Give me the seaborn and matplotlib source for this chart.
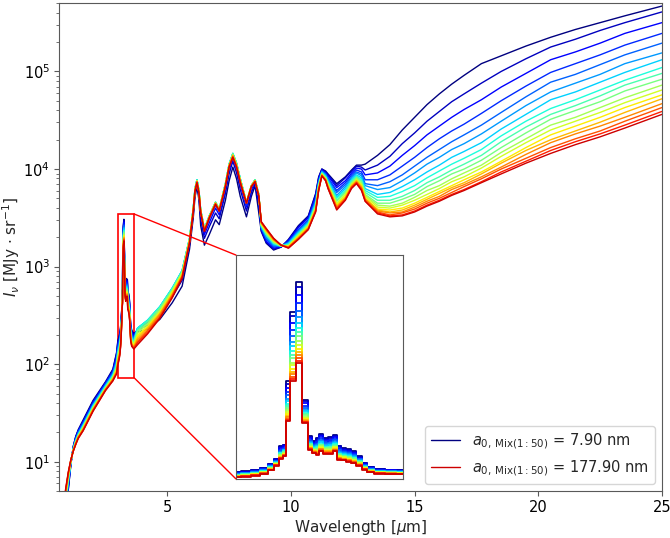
import numpy as np
import pandas as pd
import matplotlib
matplotlib.use("Agg")
import matplotlib.pyplot as plt
import seaborn as sns
from matplotlib.patches import Rectangle, ConnectionPatch
from matplotlib.lines import Line2D

# grain size of each model (one curve per size)
a0_nm = [7.90, 17.90, 27.90, 37.90, 47.90, 57.90, 67.90, 77.90, 87.90,
         97.90, 107.90, 117.90, 127.90, 137.90, 147.90, 157.90, 167.90, 177.90]

# short side of the spectrum, log10(I) per wavelength, one value per curve
wav_short = [0.8, 0.9, 1.0, 1.1, 1.2, 1.3, 1.4, 1.6, 2.0, 2.5, 2.8, 2.95]
logI_short = [
    [0.20, 0.22, 0.26, 0.29, 0.32, 0.35, 0.38, 0.40, 0.42, 0.43, 0.46, 0.47, 0.49, 0.50, 0.52, 0.53, 0.54, 0.55],
    [0.46, 0.48, 0.50, 0.53, 0.56, 0.58, 0.60, 0.62, 0.63, 0.65, 0.66, 0.68, 0.69, 0.70, 0.71, 0.72, 0.73, 0.74],
    [0.72, 0.73, 0.75, 0.77, 0.78, 0.80, 0.81, 0.82, 0.83, 0.84, 0.85, 0.86, 0.87, 0.87, 0.88, 0.89, 0.89, 0.90],
    [0.97, 0.97, 0.98, 0.98, 0.99, 0.99, 0.99, 1.00, 1.00, 1.00, 1.01, 1.01, 1.01, 1.01, 1.01, 1.02, 1.02, 1.02],
    [1.16, 1.16, 1.15, 1.15, 1.14, 1.14, 1.14, 1.13, 1.13, 1.13, 1.12, 1.12, 1.12, 1.12, 1.12, 1.11, 1.11, 1.11],
    [1.26, 1.26, 1.25, 1.24, 1.23, 1.23, 1.22, 1.21, 1.21, 1.21, 1.20, 1.20, 1.19, 1.19, 1.19, 1.18, 1.18, 1.18],
    [1.33, 1.32, 1.32, 1.31, 1.30, 1.29, 1.28, 1.28, 1.27, 1.27, 1.26, 1.26, 1.26, 1.25, 1.25, 1.25, 1.24, 1.24],
    [1.43, 1.42, 1.41, 1.40, 1.39, 1.38, 1.38, 1.37, 1.36, 1.36, 1.35, 1.35, 1.34, 1.34, 1.33, 1.33, 1.32, 1.32],
    [1.63, 1.62, 1.61, 1.60, 1.59, 1.58, 1.58, 1.57, 1.56, 1.56, 1.55, 1.55, 1.54, 1.54, 1.53, 1.53, 1.52, 1.52],
    [1.82, 1.81, 1.81, 1.80, 1.79, 1.78, 1.78, 1.77, 1.76, 1.76, 1.75, 1.75, 1.75, 1.74, 1.74, 1.74, 1.73, 1.73],
    [1.95, 1.94, 1.93, 1.92, 1.91, 1.90, 1.89, 1.88, 1.88, 1.87, 1.86, 1.86, 1.85, 1.85, 1.84, 1.84, 1.83, 1.83],
    [2.12, 2.11, 2.09, 2.06, 2.04, 2.03, 2.01, 2.00, 1.98, 1.97, 1.96, 1.95, 1.94, 1.93, 1.92, 1.91, 1.91, 1.90],
]

# 3.3 micron band (linear I, also shown in the inset)
wav_inset = [3.000, 3.040, 3.080, 3.110, 3.140, 3.160, 3.175, 3.190, 3.200, 3.220,
             3.245, 3.270, 3.290, 3.305, 3.320, 3.330, 3.350, 3.370, 3.385, 3.400,
             3.420, 3.440, 3.460, 3.480, 3.500, 3.520, 3.560, 3.600, 3.650]
I_inset = [
    [174, 169, 162, 154, 147, 141, 136, 131, 127, 123, 118, 115, 112, 109, 106, 103, 100, 98],
    [189, 184, 176, 168, 161, 154, 149, 143, 139, 135, 130, 127, 123, 119, 116, 113, 110, 108],
    [209, 204, 195, 187, 179, 172, 166, 160, 156, 151, 146, 143, 139, 135, 132, 128, 126, 123],
    [239, 234, 224, 215, 207, 200, 194, 187, 183, 178, 173, 169, 164, 161, 157, 154, 151, 148],
    [305, 299, 289, 279, 270, 262, 255, 247, 242, 237, 231, 227, 222, 218, 214, 210, 207, 204],
    [376, 370, 360, 350, 341, 333, 326, 318, 313, 308, 302, 298, 293, 289, 285, 281, 278, 275],
    [567, 556, 536, 517, 500, 485, 472, 458, 449, 439, 428, 420, 410, 403, 395, 387, 382, 376],
    [593, 582, 565, 547, 531, 517, 505, 492, 483, 474, 464, 457, 448, 441, 434, 427, 421, 416],
    [1552, 1516, 1455, 1394, 1340, 1291, 1249, 1207, 1176, 1146, 1110, 1085, 1055, 1031, 1007, 982, 964, 946],
    [2612, 2548, 2442, 2336, 2241, 2156, 2082, 2008, 1955, 1902, 1838, 1796, 1743, 1700, 1658, 1616, 1584, 1552],
    [3056, 2982, 2860, 2737, 2627, 2528, 2442, 2357, 2295, 2234, 2160, 2111, 2050, 2001, 1952, 1903, 1866, 1829],
    [1274, 1253, 1218, 1182, 1150, 1122, 1097, 1073, 1055, 1037, 1016, 1002, 985, 970, 956, 942, 932, 921],
    [719, 707, 687, 666, 648, 632, 618, 604, 594, 584, 572, 563, 553, 545, 537, 529, 523, 517],
    [643, 632, 615, 597, 581, 567, 554, 542, 533, 524, 514, 507, 498, 491, 484, 477, 471, 466],
    [694, 679, 654, 628, 605, 585, 567, 550, 537, 524, 509, 499, 487, 476, 466, 456, 449, 441],
    [759, 743, 716, 690, 666, 644, 625, 607, 593, 580, 564, 553, 540, 529, 519, 508, 500, 492],
    [694, 680, 656, 632, 611, 592, 575, 558, 546, 535, 520, 511, 499, 489, 480, 470, 463, 456],
    [704, 689, 664, 640, 617, 597, 580, 563, 550, 538, 523, 513, 501, 491, 481, 471, 463, 456],
    [744, 729, 704, 678, 656, 636, 618, 600, 588, 575, 560, 550, 537, 527, 517, 507, 500, 492],
    [577, 564, 543, 522, 503, 486, 471, 456, 446, 435, 422, 414, 403, 395, 386, 378, 371, 365],
    [542, 531, 512, 493, 477, 462, 448, 435, 426, 417, 405, 398, 389, 381, 374, 366, 361, 355],
    [527, 515, 496, 477, 460, 444, 431, 418, 408, 398, 387, 379, 370, 362, 354, 347, 341, 335],
    [492, 481, 464, 446, 430, 416, 403, 391, 382, 373, 363, 356, 347, 340, 333, 326, 320, 315],
    [416, 408, 393, 379, 367, 355, 345, 336, 329, 322, 313, 307, 300, 295, 289, 283, 279, 275],
    [315, 309, 299, 289, 280, 272, 264, 257, 252, 247, 241, 237, 232, 228, 224, 220, 217, 214],
    [254, 249, 241, 233, 226, 220, 214, 208, 204, 200, 196, 192, 188, 185, 182, 179, 176, 174],
    [224, 220, 213, 206, 199, 193, 188, 184, 180, 176, 172, 169, 166, 163, 160, 157, 155, 153],
    [214, 210, 203, 197, 191, 186, 181, 176, 173, 170, 166, 163, 160, 157, 155, 152, 150, 148],
    [209, 205, 198, 192, 186, 181, 176, 171, 168, 165, 161, 158, 155, 152, 150, 147, 145, 143],
]

# long side of the spectrum, log10(I)
wav_long = [3.8, 4.2, 4.7, 5.2, 5.6, 5.9, 6.05, 6.12, 6.2, 6.28, 6.35, 6.5, 6.7, 6.95,
            7.1, 7.35, 7.5, 7.65, 7.8, 7.95, 8.2, 8.4, 8.55, 8.7, 8.8, 9.0, 9.3, 9.6,
            9.9, 10.3, 10.7, 11.0, 11.12, 11.25, 11.4, 11.5, 11.85, 12.2, 12.45, 12.65,
            12.85, 13.0, 13.5, 14.0, 14.5, 15.0, 15.5, 16.0, 16.5, 17.0, 17.7, 18.5,
            19.5, 20.5, 21.5, 22.5, 23.5, 25.0]
logI_long = [
    [2.33, 2.35, 2.36, 2.36, 2.37, 2.37, 2.37, 2.37, 2.35, 2.34, 2.32, 2.30, 2.29, 2.27, 2.25, 2.23, 2.22, 2.20],
    [2.36, 2.40, 2.42, 2.43, 2.44, 2.45, 2.45, 2.45, 2.44, 2.42, 2.41, 2.39, 2.38, 2.37, 2.35, 2.34, 2.32, 2.31],
    [2.46, 2.51, 2.54, 2.57, 2.58, 2.59, 2.59, 2.59, 2.58, 2.57, 2.55, 2.54, 2.53, 2.52, 2.51, 2.49, 2.48, 2.47],
    [2.63, 2.69, 2.73, 2.75, 2.77, 2.78, 2.78, 2.78, 2.77, 2.76, 2.75, 2.74, 2.73, 2.72, 2.71, 2.70, 2.69, 2.68],
    [2.80, 2.86, 2.90, 2.93, 2.95, 2.96, 2.96, 2.96, 2.95, 2.94, 2.94, 2.93, 2.92, 2.91, 2.90, 2.90, 2.89, 2.88],
    [3.18, 3.22, 3.25, 3.27, 3.28, 3.29, 3.29, 3.29, 3.29, 3.28, 3.28, 3.27, 3.27, 3.26, 3.26, 3.25, 3.25, 3.24],
    [3.50, 3.54, 3.57, 3.58, 3.59, 3.60, 3.60, 3.60, 3.60, 3.59, 3.59, 3.58, 3.58, 3.58, 3.57, 3.57, 3.56, 3.56],
    [3.71, 3.75, 3.77, 3.78, 3.79, 3.80, 3.80, 3.80, 3.80, 3.79, 3.79, 3.79, 3.79, 3.78, 3.78, 3.78, 3.77, 3.77],
    [3.82, 3.85, 3.87, 3.88, 3.89, 3.89, 3.89, 3.89, 3.89, 3.88, 3.88, 3.88, 3.87, 3.87, 3.87, 3.87, 3.86, 3.86],
    [3.68, 3.72, 3.75, 3.76, 3.77, 3.78, 3.78, 3.78, 3.78, 3.77, 3.77, 3.77, 3.77, 3.76, 3.76, 3.76, 3.75, 3.75],
    [3.42, 3.48, 3.52, 3.55, 3.57, 3.58, 3.58, 3.58, 3.58, 3.57, 3.57, 3.57, 3.57, 3.56, 3.56, 3.56, 3.55, 3.55],
    [3.22, 3.29, 3.33, 3.36, 3.38, 3.39, 3.39, 3.39, 3.39, 3.38, 3.38, 3.38, 3.38, 3.37, 3.37, 3.37, 3.36, 3.36],
    [3.33, 3.41, 3.45, 3.49, 3.51, 3.52, 3.52, 3.52, 3.52, 3.52, 3.51, 3.51, 3.51, 3.51, 3.51, 3.50, 3.50, 3.50],
    [3.48, 3.55, 3.60, 3.63, 3.65, 3.66, 3.66, 3.66, 3.66, 3.66, 3.65, 3.65, 3.65, 3.65, 3.65, 3.64, 3.64, 3.64],
    [3.43, 3.49, 3.53, 3.56, 3.58, 3.59, 3.59, 3.59, 3.59, 3.59, 3.58, 3.58, 3.58, 3.58, 3.58, 3.57, 3.57, 3.57],
    [3.68, 3.75, 3.79, 3.82, 3.84, 3.85, 3.85, 3.85, 3.85, 3.84, 3.84, 3.84, 3.84, 3.83, 3.83, 3.83, 3.82, 3.82],
    [3.88, 3.95, 3.99, 4.02, 4.04, 4.05, 4.05, 4.05, 4.05, 4.04, 4.04, 4.04, 4.04, 4.03, 4.03, 4.03, 4.02, 4.02],
    [4.02, 4.08, 4.11, 4.13, 4.15, 4.16, 4.16, 4.16, 4.16, 4.15, 4.15, 4.14, 4.14, 4.14, 4.13, 4.13, 4.12, 4.12],
    [3.90, 3.96, 4.00, 4.03, 4.05, 4.06, 4.06, 4.06, 4.06, 4.05, 4.05, 4.04, 4.04, 4.04, 4.03, 4.03, 4.02, 4.02],
    [3.72, 3.79, 3.84, 3.87, 3.89, 3.90, 3.90, 3.90, 3.90, 3.89, 3.89, 3.88, 3.88, 3.88, 3.87, 3.87, 3.86, 3.86],
    [3.51, 3.57, 3.61, 3.63, 3.65, 3.66, 3.66, 3.66, 3.66, 3.66, 3.66, 3.66, 3.66, 3.65, 3.65, 3.65, 3.65, 3.65],
    [3.72, 3.76, 3.79, 3.81, 3.82, 3.83, 3.83, 3.83, 3.83, 3.83, 3.83, 3.83, 3.83, 3.83, 3.82, 3.82, 3.82, 3.82],
    [3.83, 3.85, 3.87, 3.88, 3.89, 3.89, 3.89, 3.89, 3.89, 3.89, 3.88, 3.88, 3.88, 3.88, 3.88, 3.87, 3.87, 3.87],
    [3.55, 3.63, 3.67, 3.71, 3.73, 3.74, 3.74, 3.74, 3.74, 3.74, 3.73, 3.73, 3.73, 3.73, 3.73, 3.72, 3.72, 3.72],
    [3.36, 3.37, 3.38, 3.39, 3.40, 3.40, 3.41, 3.42, 3.42, 3.43, 3.43, 3.44, 3.44, 3.45, 3.45, 3.45, 3.46, 3.46],
    [3.24, 3.25, 3.26, 3.28, 3.29, 3.30, 3.32, 3.33, 3.33, 3.34, 3.35, 3.36, 3.36, 3.37, 3.38, 3.38, 3.39, 3.39],
    [3.17, 3.18, 3.19, 3.20, 3.21, 3.22, 3.23, 3.24, 3.24, 3.25, 3.26, 3.26, 3.27, 3.27, 3.28, 3.28, 3.29, 3.29],
    [3.20, 3.20, 3.20, 3.21, 3.21, 3.21, 3.21, 3.21, 3.21, 3.21, 3.21, 3.22, 3.22, 3.22, 3.22, 3.22, 3.22, 3.22],
    [3.28, 3.27, 3.27, 3.26, 3.25, 3.24, 3.24, 3.23, 3.22, 3.22, 3.21, 3.21, 3.21, 3.20, 3.20, 3.20, 3.19, 3.19],
    [3.42, 3.41, 3.40, 3.38, 3.37, 3.36, 3.35, 3.34, 3.33, 3.33, 3.32, 3.31, 3.31, 3.30, 3.29, 3.29, 3.28, 3.28],
    [3.52, 3.51, 3.50, 3.48, 3.47, 3.46, 3.45, 3.44, 3.43, 3.43, 3.42, 3.41, 3.41, 3.40, 3.39, 3.39, 3.38, 3.38],
    [3.75, 3.74, 3.72, 3.70, 3.68, 3.67, 3.65, 3.64, 3.63, 3.62, 3.61, 3.60, 3.59, 3.59, 3.58, 3.57, 3.57, 3.56],
    [3.92, 3.91, 3.90, 3.88, 3.87, 3.86, 3.85, 3.84, 3.83, 3.83, 3.82, 3.81, 3.81, 3.80, 3.79, 3.79, 3.78, 3.78],
    [4.00, 4.00, 3.99, 3.98, 3.98, 3.97, 3.97, 3.96, 3.96, 3.95, 3.95, 3.95, 3.94, 3.94, 3.94, 3.93, 3.93, 3.93],
    [3.98, 3.97, 3.96, 3.95, 3.95, 3.94, 3.93, 3.92, 3.92, 3.91, 3.91, 3.90, 3.90, 3.89, 3.89, 3.89, 3.88, 3.88],
    [3.95, 3.94, 3.93, 3.91, 3.90, 3.89, 3.88, 3.86, 3.86, 3.85, 3.84, 3.83, 3.83, 3.82, 3.82, 3.81, 3.80, 3.80],
    [3.85, 3.83, 3.81, 3.78, 3.76, 3.73, 3.71, 3.70, 3.68, 3.67, 3.65, 3.64, 3.63, 3.62, 3.61, 3.60, 3.59, 3.58],
    [3.92, 3.91, 3.88, 3.86, 3.84, 3.82, 3.80, 3.78, 3.77, 3.76, 3.74, 3.74, 3.72, 3.71, 3.70, 3.69, 3.69, 3.68],
    [3.99, 3.98, 3.96, 3.94, 3.92, 3.91, 3.89, 3.88, 3.87, 3.86, 3.85, 3.84, 3.83, 3.83, 3.82, 3.81, 3.81, 3.80],
    [4.04, 4.03, 4.01, 3.99, 3.97, 3.96, 3.94, 3.93, 3.92, 3.91, 3.90, 3.89, 3.88, 3.88, 3.87, 3.86, 3.86, 3.85],
    [4.04, 4.02, 4.00, 3.97, 3.95, 3.93, 3.91, 3.89, 3.88, 3.87, 3.85, 3.84, 3.83, 3.82, 3.81, 3.80, 3.79, 3.78],
    [4.05, 3.99, 3.94, 3.89, 3.85, 3.83, 3.80, 3.78, 3.76, 3.74, 3.73, 3.72, 3.70, 3.70, 3.69, 3.68, 3.67, 3.67],
    [4.14, 4.04, 3.96, 3.89, 3.83, 3.79, 3.74, 3.71, 3.68, 3.65, 3.63, 3.61, 3.59, 3.58, 3.57, 3.56, 3.55, 3.54],
    [4.25, 4.13, 4.03, 3.94, 3.87, 3.81, 3.76, 3.72, 3.68, 3.65, 3.62, 3.60, 3.58, 3.56, 3.55, 3.53, 3.52, 3.51],
    [4.40, 4.26, 4.14, 4.03, 3.94, 3.88, 3.82, 3.77, 3.72, 3.69, 3.65, 3.63, 3.60, 3.58, 3.56, 3.55, 3.53, 3.52],
    [4.53, 4.37, 4.24, 4.12, 4.03, 3.96, 3.89, 3.83, 3.78, 3.74, 3.71, 3.68, 3.65, 3.63, 3.61, 3.59, 3.57, 3.56],
    [4.66, 4.49, 4.35, 4.22, 4.12, 4.05, 3.97, 3.91, 3.86, 3.82, 3.78, 3.74, 3.71, 3.69, 3.67, 3.65, 3.63, 3.62],
    [4.77, 4.59, 4.44, 4.31, 4.20, 4.12, 4.04, 3.98, 3.92, 3.88, 3.83, 3.80, 3.77, 3.75, 3.72, 3.70, 3.68, 3.67],
    [4.87, 4.69, 4.53, 4.39, 4.28, 4.20, 4.12, 4.05, 3.99, 3.95, 3.90, 3.87, 3.83, 3.81, 3.79, 3.76, 3.74, 3.73],
    [4.96, 4.77, 4.61, 4.46, 4.35, 4.26, 4.18, 4.11, 4.05, 4.00, 3.96, 3.92, 3.89, 3.86, 3.84, 3.82, 3.79, 3.78],
    [5.08, 4.88, 4.71, 4.57, 4.45, 4.36, 4.27, 4.20, 4.14, 4.09, 4.04, 4.01, 3.97, 3.95, 3.92, 3.90, 3.87, 3.86],
    [5.16, 5.00, 4.84, 4.70, 4.58, 4.49, 4.41, 4.34, 4.28, 4.22, 4.17, 4.13, 4.08, 4.06, 4.02, 4.00, 3.97, 3.95],
    [5.26, 5.13, 4.98, 4.85, 4.74, 4.65, 4.56, 4.49, 4.43, 4.37, 4.31, 4.27, 4.22, 4.19, 4.15, 4.11, 4.08, 4.06],
    [5.35, 5.25, 5.12, 4.99, 4.89, 4.79, 4.71, 4.62, 4.56, 4.51, 4.45, 4.40, 4.35, 4.30, 4.27, 4.22, 4.19, 4.16],
    [5.43, 5.33, 5.20, 5.08, 4.97, 4.88, 4.79, 4.71, 4.65, 4.60, 4.53, 4.49, 4.44, 4.39, 4.36, 4.31, 4.28, 4.25],
    [5.50, 5.42, 5.29, 5.17, 5.07, 4.97, 4.89, 4.81, 4.75, 4.69, 4.63, 4.58, 4.53, 4.48, 4.44, 4.39, 4.36, 4.33],
    [5.57, 5.50, 5.39, 5.27, 5.17, 5.08, 4.99, 4.91, 4.86, 4.80, 4.73, 4.68, 4.63, 4.58, 4.53, 4.49, 4.45, 4.42],
    [5.67, 5.61, 5.50, 5.39, 5.29, 5.19, 5.12, 5.04, 4.98, 4.92, 4.86, 4.81, 4.76, 4.72, 4.67, 4.63, 4.59, 4.56],
]


def long_table(wavs, rows):
    # one record per (wavelength, curve)
    rec = []
    for w, row in zip(wavs, rows):
        for a, v in zip(a0_nm, row):
            rec.append((w, v, a))
    return pd.DataFrame(rec, columns=["wav", "I", "a0"])


sns.set_style("ticks")
plt.rcParams["font.family"] = ["DejaVu Sans"]
plt.rcParams["mathtext.fontset"] = "dejavusans"

colors = [tuple(c) for c in plt.cm.jet(np.linspace(0, 0.93, len(a0_nm)))]

df_main = pd.concat([
    long_table(wav_short, [[10 ** v for v in r] for r in logI_short]),
    long_table(wav_inset, I_inset),
    long_table(wav_long, [[10 ** v for v in r] for r in logI_long]),
], ignore_index=True)
df_ins = long_table(wav_inset, I_inset)

fig = plt.figure(figsize=(6.7, 5.38), dpi=100)
ax = fig.add_axes([0.088, 0.087, 0.900, 0.907])

sns.lineplot(data=df_main, x="wav", y="I", hue="a0", palette=colors,
             estimator=None, sort=True, legend=False, lw=1.0, ax=ax)
ax.set_yscale("log")
ax.set_xlim(0.62, 25)
ax.set_ylim(5, 5e5)
ax.set_xticks([5, 10, 15, 20, 25])
ax.set_xlabel(r"Wavelength [$\mu$m]", fontsize=11, labelpad=2)
ax.set_ylabel(r"$I_\nu$ [MJy $\cdot$ sr$^{-1}$]", fontsize=11)
ax.yaxis.set_label_coords(-0.062, 0.5)
ax.tick_params(which="major", length=3.5, pad=3, labelsize=10.5,
               colors="0.35", labelcolor="black")
ax.tick_params(which="minor", length=2, colors="0.35")
for s in ax.spines.values():
    s.set_color("0.35")

# legend only for the two end members
handles = [Line2D([0], [0], color=colors[0], lw=1.0),
           Line2D([0], [0], color=colors[-1], lw=1.0)]
labels = [r"$a_{0,\,\mathrm{Mix}(1:50)}$ = %.2f nm" % a0_nm[0],
          r"$a_{0,\,\mathrm{Mix}(1:50)}$ = %.2f nm" % a0_nm[-1]]
ax.legend(handles, labels, loc="lower right", fontsize=10.5)

# inset on the 3.3 micron feature
x1, x2, y1, y2 = 3.0, 3.65, 73, 3470
axins = fig.add_axes([0.352, 0.110, 0.249, 0.416])
sns.lineplot(data=df_ins, x="wav", y="I", hue="a0", palette=colors,
             estimator=None, sort=True, legend=False, lw=1.3,
             drawstyle="steps-mid", ax=axins)
axins.set_xlim(x1, x2)
axins.set_ylim(y1, y2)
axins.set_xticks([])
axins.set_yticks([])
axins.set_xlabel("")
axins.set_ylabel("")
for s in axins.spines.values():
    s.set_color("0.35")

ax.add_patch(Rectangle((x1, y1), x2 - x1, y2 - y1, fill=False, ec="red", lw=1.2))
for yy, corner in [(y2, (0, 1)), (y1, (0, 0))]:
    con = ConnectionPatch(xyA=(x2, yy), coordsA=ax.transData,
                          xyB=corner, coordsB=axins.transAxes,
                          color="red", lw=1.0)
    fig.add_artist(con)

fig.savefig("out.png", dpi=100)
